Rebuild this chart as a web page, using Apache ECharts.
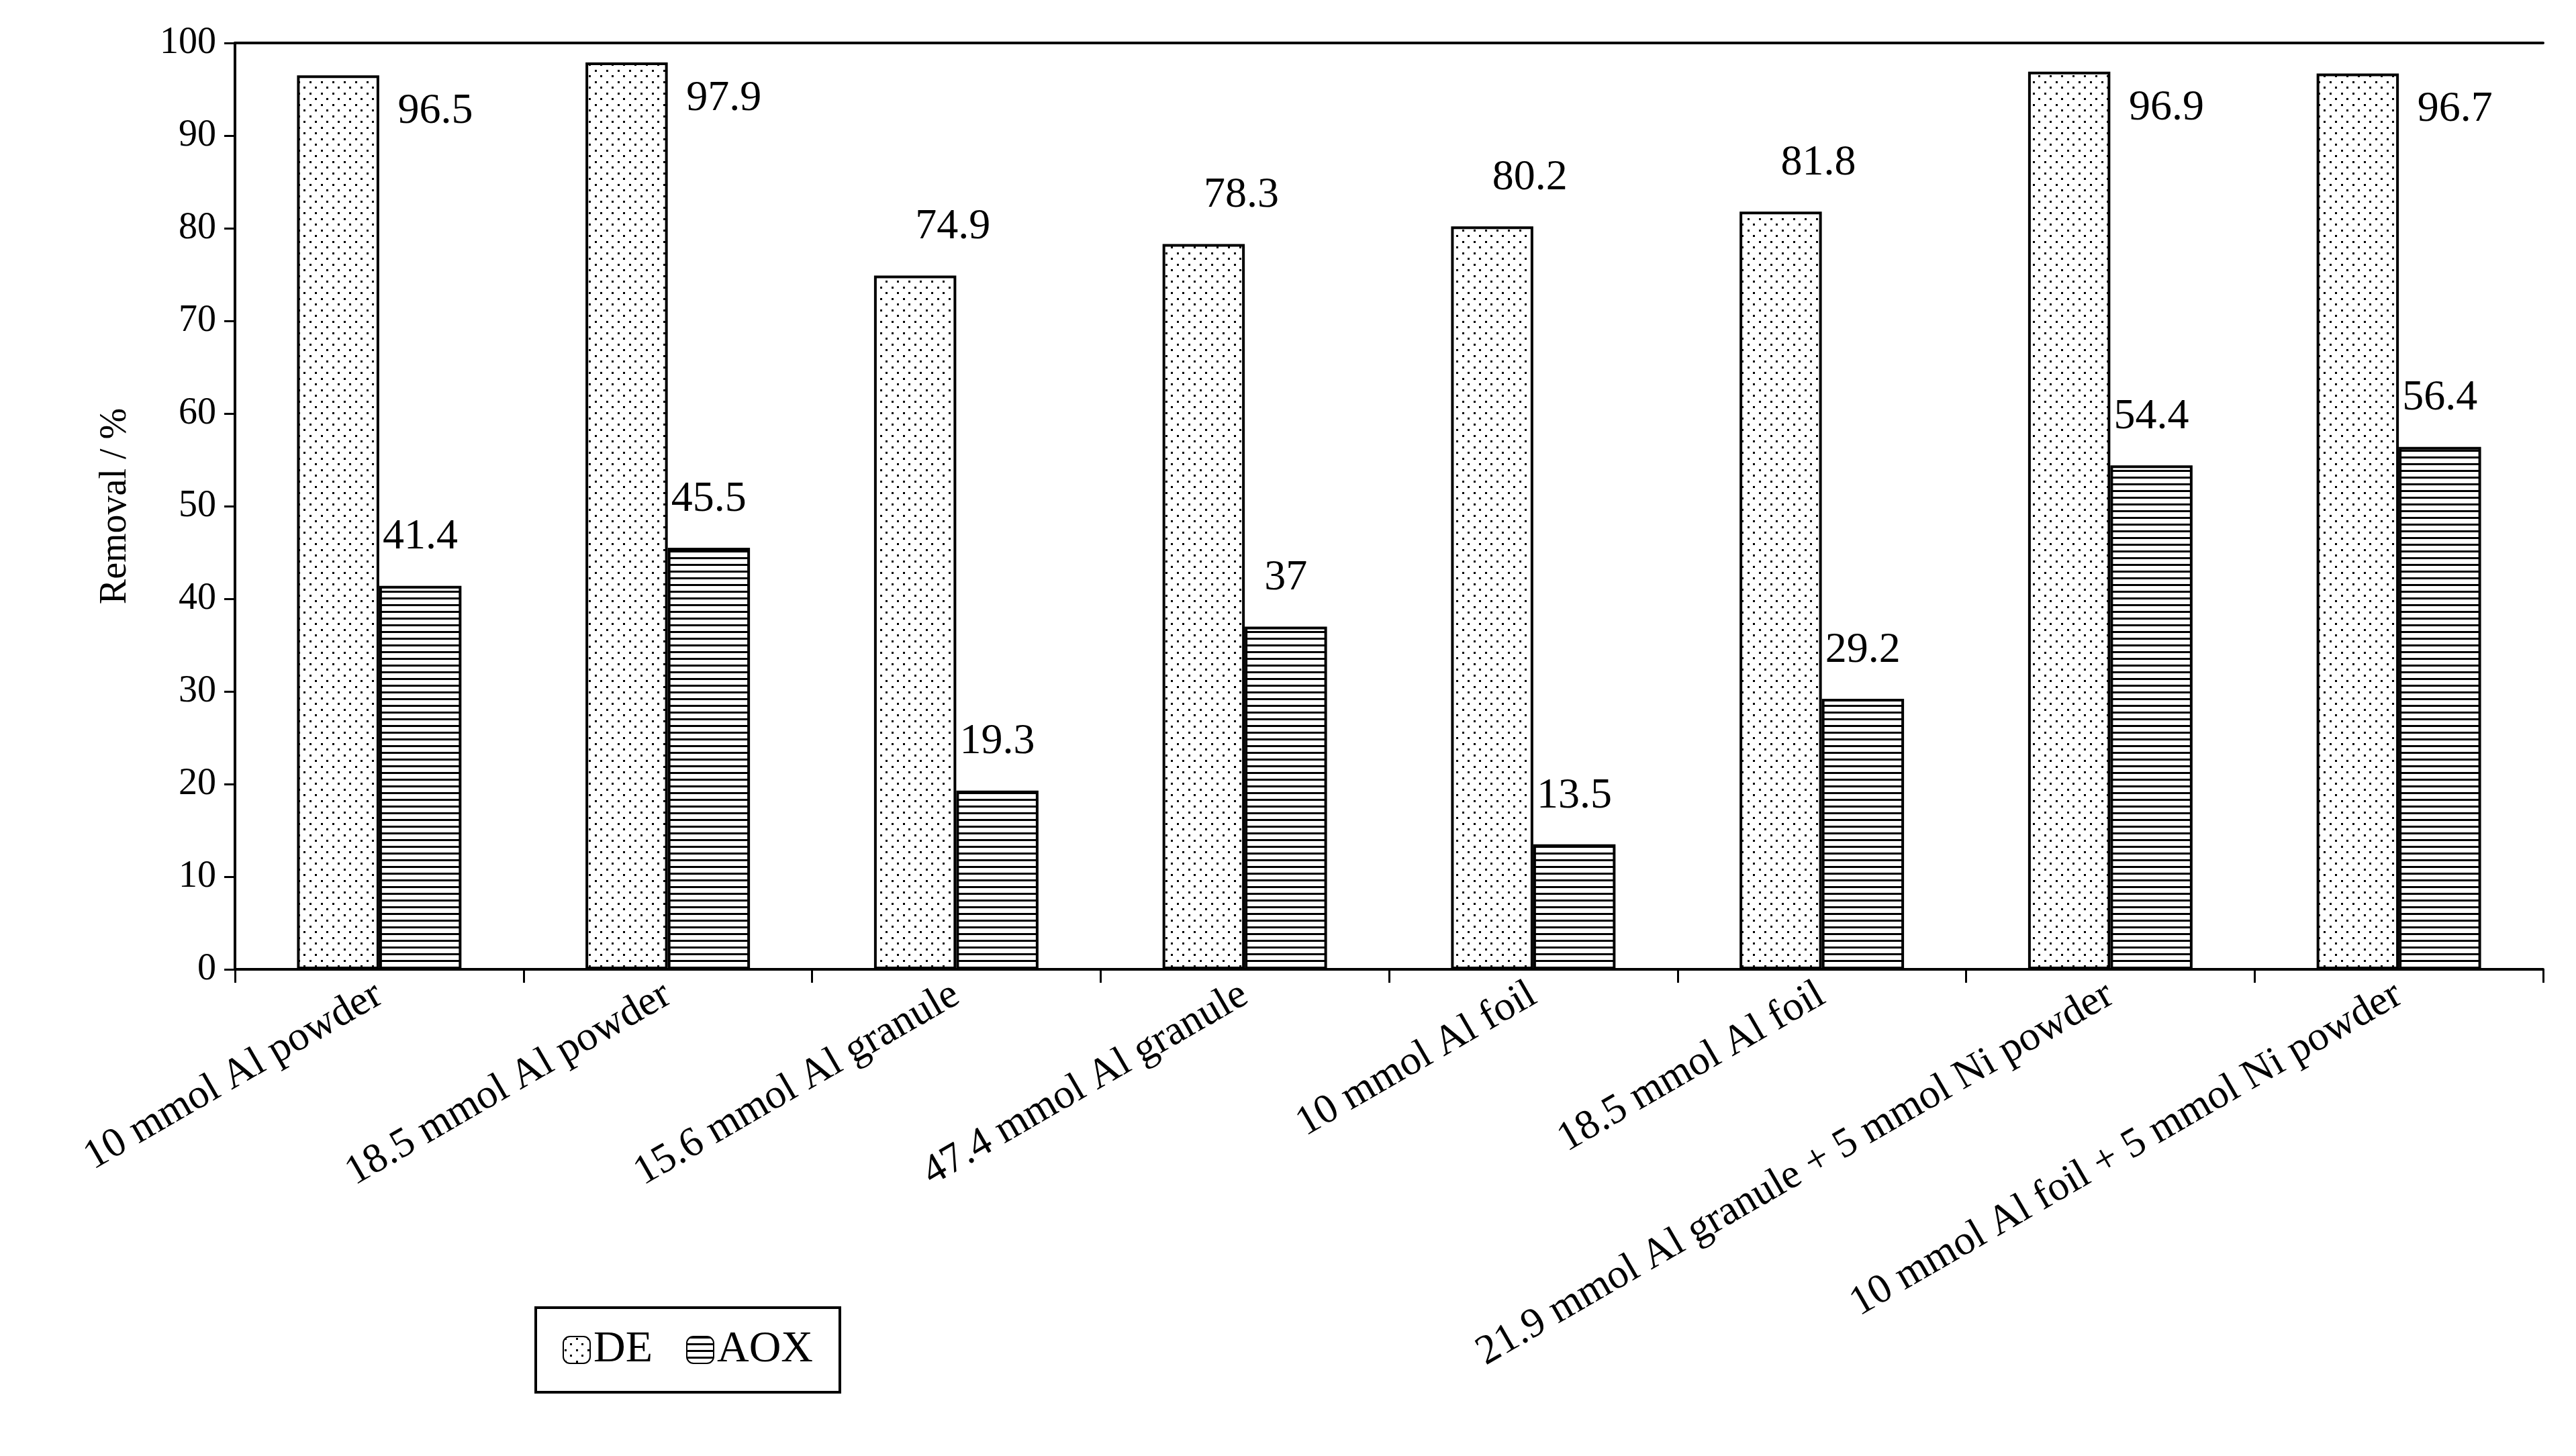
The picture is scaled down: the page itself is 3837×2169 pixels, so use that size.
<!DOCTYPE html>
<html><head><meta charset="utf-8">
<script src="https://cdn.jsdelivr.net/npm/echarts@6/dist/echarts.min.js"></script>
<style>html,body{margin:0;background:#fff}#c{width:3837px;height:2169px}</style>
</head><body><div id="c"></div>
<script>
const categories = ["10 mmol Al powder","18.5 mmol Al powder","15.6 mmol Al granule","47.4 mmol Al granule","10 mmol Al foil","18.5 mmol Al foil","21.9 mmol Al granule + 5 mmol Ni powder","10 mmol Al foil + 5 mmol Ni powder"];
const deValues = [96.5,97.9,74.9,78.3,80.2,81.8,96.9,96.7];
const aoxValues = [41.4,45.5,19.3,37,13.5,29.2,54.4,56.4];
const yTicks = [0,10,20,30,40,50,60,70,80,90,100];

function dotPattern(){
  const c=document.createElement('canvas');c.width=17;c.height=17;
  const g=c.getContext('2d');g.fillStyle='#fff';g.fillRect(0,0,17,17);
  g.fillStyle='#000';g.fillRect(2,2,3,3);g.fillRect(10,10,3,3);
  return c;
}
function linePattern(){
  const c=document.createElement('canvas');c.width=10;c.height=10;
  const g=c.getContext('2d');g.fillStyle='#fff';g.fillRect(0,0,10,10);
  g.fillStyle='#000';g.fillRect(0,0,10,3);
  return c;
}
const F='Liberation Serif';
const chart=echarts.init(document.getElementById('c'));
const deData=deValues.map(v=>({value:v,label:v>90?{position:[150,22]}:{position:'top'}}));
chart.setOption({
  animation:false,
  textStyle:{fontFamily:F},
  grid:{left:350,right:49,top:64,bottom:725},
  legend:{left:798,top:1948,width:482,height:122,itemGap:50,padding:[30,40],
    borderColor:'#000',borderWidth:4,itemWidth:40,itemHeight:40,
    textStyle:{fontFamily:F,fontSize:66,color:'#000'},data:['DE','AOX']},
  xAxis:[{type:'category',data:categories,
    axisLine:{lineStyle:{color:'#000',width:4}},
    axisTick:{show:true,length:20,lineStyle:{color:'#000',width:3}},
    axisLabel:{rotate:30,interval:0,fontSize:62,color:'#000',fontFamily:F,margin:34}},
    {type:'category',position:'top',data:categories,axisLine:{lineStyle:{color:'#000',width:4}},
    axisTick:{show:false},axisLabel:{show:false}}],
  yAxis:{type:'value',min:0,max:100,interval:10,name:'Removal / %',nameLocation:'middle',nameGap:150,
    nameTextStyle:{fontSize:56,color:'#000',fontFamily:F},
    axisLine:{show:true,lineStyle:{color:'#000',width:4}},
    axisTick:{show:true,length:16,lineStyle:{color:'#000',width:3}},
    splitLine:{show:false},
    axisLabel:{fontSize:56,color:'#000',fontFamily:F,margin:28,formatter:v=>yTicks.includes(v)?String(v):''}},
  series:[
    {name:'DE',type:'bar',data:deData,barGap:'0%',barCategoryGap:'43%',
     itemStyle:{color:{image:dotPattern(),repeat:'repeat'},borderColor:'#000',borderWidth:4},
     label:{show:true,fontSize:64,color:'#000',fontFamily:F,distance:40,align:'left'}},
    {name:'AOX',type:'bar',data:aoxValues,
     itemStyle:{color:{image:linePattern(),repeat:'repeat'},borderColor:'#000',borderWidth:4},
     label:{show:true,position:'top',fontSize:64,color:'#000',fontFamily:F,distance:40}}
  ]
});
</script></body></html>
